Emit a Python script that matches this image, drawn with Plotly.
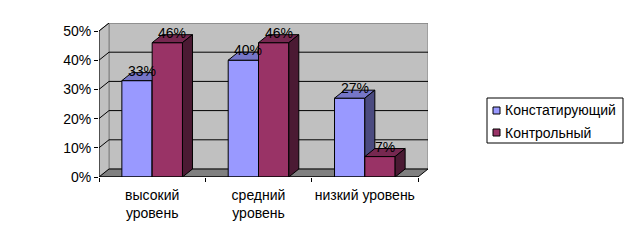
import plotly.graph_objects as go

categories = ["высокий<br>уровень", "средний<br>уровень", "низкий уровень"]
series_names = ["Констатирующий", "Контрольный"]
konstat = [33, 40, 27]
kontrol = [46, 46, 7]
y_ticks = [0, 10, 20, 30, 40, 50]

FONT = "Liberation Sans, Arial, sans-serif"
W = 0.285          # bar width in category units
DX = 0.094         # depth offset (x, category units)
DY = 2.74          # depth offset (y, percent units)
YMAX = 50
N = len(categories)
centers = [i + 0.5 for i in range(N)]

front_cols = ["#9999FF", "#993366"]
top_cols = ["#7676C8", "#762850"]
side_cols = ["#4B4B80", "#4B1A33"]

# plot area geometry (pixels)
L, R, T, B = 99, 205, 23, 66
FW, FH = 633, 243
PW, PH = FW - L - R, FH - T - B


def px(x):
    return (x - L) / PW


def py(y):
    return (FH - B - y) / PH


fig = go.Figure()


def faces(vals, offset):
    tx, ty, sx, sy = [], [], [], []
    for c, h in zip(centers, vals):
        xl = c + offset
        xr = xl + W
        tx += [xl, xr, xr + DX, xl + DX, xl, None]
        ty += [h, h, h + DY, h + DY, h, None]
        sx += [xr, xr + DX, xr + DX, xr, xr, None]
        sy += [0, DY, h + DY, h, 0, None]
    return tx, ty, sx, sy


for k, (vals, name) in enumerate([(konstat, series_names[0]), (kontrol, series_names[1])]):
    xa = "x" if k == 0 else "x2"
    ya = "y" if k == 0 else "y2"
    offset = -W if k == 0 else 0
    fig.add_trace(go.Bar(
        x=centers, y=vals, width=W, offset=offset, name=name, showlegend=False,
        marker=dict(color=front_cols[k], line=dict(color="black", width=1)),
        xaxis=xa, yaxis=ya, hoverinfo="skip"))
    tx, ty, sx, sy = faces(vals, offset)
    fig.add_trace(go.Scatter(x=tx, y=ty, fill="toself", fillcolor=top_cols[k], mode="lines",
                             line=dict(color="black", width=1), showlegend=False,
                             xaxis=xa, yaxis=ya, hoverinfo="skip"))
    fig.add_trace(go.Scatter(x=sx, y=sy, fill="toself", fillcolor=side_cols[k], mode="lines",
                             line=dict(color="black", width=1), showlegend=False,
                             xaxis=xa, yaxis=ya, hoverinfo="skip"))
    for c, h in zip(centers, vals):
        fig.add_annotation(x=c + offset + W / 2 + DX / 2, y=h + DY, text=f"{h}%",
                           xref=xa, yref=ya, showarrow=False, yshift=2,
                           font=dict(family=FONT, size=14, color="black"))

shapes = []
# back wall
shapes.append(dict(type="rect", xref="x", yref="y", x0=DX, x1=N + DX, y0=DY, y1=YMAX + DY,
                   fillcolor="#C0C0C0", line=dict(color="#808080", width=1), layer="below"))
# left wall
shapes.append(dict(type="path", xref="x", yref="y",
                   path=f"M0,0 L{DX},{DY} L{DX},{YMAX + DY} L0,{YMAX} Z",
                   fillcolor="#C0C0C0", line=dict(color="#808080", width=1), layer="below"))
# floor
shapes.append(dict(type="path", xref="x", yref="y",
                   path=f"M0,0 L{N},0 L{N + DX},{DY} L{DX},{DY} Z",
                   fillcolor="#808080", line=dict(color="black", width=1), layer="below"))
# gridlines
for t in y_ticks[1:]:
    col = "black" if t < YMAX else "#808080"
    shapes.append(dict(type="line", xref="x", yref="y", x0=DX, x1=N + DX, y0=t + DY, y1=t + DY,
                       line=dict(color=col, width=1), layer="below"))
    shapes.append(dict(type="line", xref="x", yref="y", x0=0, x1=DX, y0=t, y1=t + DY,
                       line=dict(color="black", width=1), layer="below"))
# front axis lines
shapes.append(dict(type="line", xref="x", yref="y", x0=0, x1=0, y0=0, y1=YMAX,
                   line=dict(color="black", width=1)))
shapes.append(dict(type="line", xref="x", yref="y", x0=0, x1=N, y0=0, y1=0,
                   line=dict(color="black", width=1)))

# legend box (drawn manually to match the compact Excel legend)
shapes.append(dict(type="rect", xref="paper", yref="paper",
                   x0=px(487), x1=px(623), y0=py(143), y1=py(98),
                   fillcolor="white", line=dict(color="black", width=1)))
row_y = [110.5, 132.5]
for k, name in enumerate(series_names):
    shapes.append(dict(type="rect", xref="paper", yref="paper",
                       x0=px(493), x1=px(500), y0=py(row_y[k] + 3.5), y1=py(row_y[k] - 3.5),
                       fillcolor=front_cols[k], line=dict(color="black", width=1)))
    fig.add_annotation(x=px(503), y=py(row_y[k]), xref="paper", yref="paper",
                       text=name, showarrow=False, xanchor="left", yanchor="middle",
                       font=dict(family=FONT, size=14, color="black"))
fig.update_layout(shapes=shapes)

xr = [0, N + DX]
yr = [0, YMAX + DY]
fig.update_layout(
    width=FW, height=FH,
    margin=dict(l=L, r=R, t=T, b=B, autoexpand=False),
    paper_bgcolor="white", plot_bgcolor="white",
    showlegend=False,
    font=dict(family=FONT, size=14, color="black"),
    xaxis=dict(range=xr, tickvals=list(range(N + 1)), ticktext=[""] * (N + 1),
               ticks="outside", ticklen=4, tickcolor="black", showgrid=False,
               zeroline=False, showline=False, fixedrange=True),
    xaxis2=dict(range=xr, overlaying="x", anchor="y", side="bottom",
                tickvals=centers, ticktext=categories, ticks="", showgrid=False,
                zeroline=False, showline=False, fixedrange=True, ticklabelstandoff=8,
                tickfont=dict(family=FONT, size=14, color="black")),
    yaxis=dict(range=yr, tickvals=y_ticks, ticktext=[f"{t}%" for t in y_ticks],
               ticks="outside", ticklen=4, tickcolor="black", showgrid=False,
               zeroline=False, showline=False, fixedrange=True,
               tickfont=dict(family=FONT, size=14, color="black")),
    yaxis2=dict(range=yr, overlaying="y", anchor="x", visible=False, fixedrange=True),
)

fig.write_html("out.html")
